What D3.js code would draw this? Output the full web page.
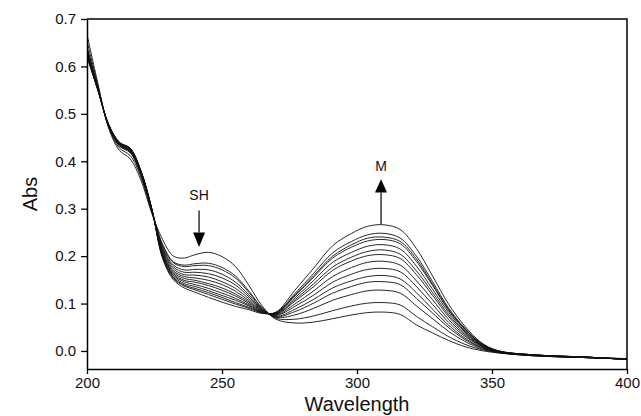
<!DOCTYPE html>
<html>
<head>
<meta charset="utf-8">
<script src="https://cdn.jsdelivr.net/npm/d3@7/dist/d3.min.js"></script>
<style>
  html, body { margin: 0; padding: 0; background: #fff; }
  svg { display: block; font-family: "Liberation Sans", Arial, sans-serif; }
</style>
</head>
<body>
<svg id="chart" width="641" height="416"></svg>
<script>
// ---- data ----
const wavelengths = [200,204,208,212,216,220,224,228,232,236,240,245,250,255,260,265,270,277,284,291,298,304,310,316,322,328,334,340,346,352,365,385,400];

const abs01 = [.667,.565,.470,.423,.405,.360,.290,.235,.200,.196,.203,.208,.199,.178,.138,.094,.067,.059,.061,.068,.076,.081,.082,.077,.055,.038,.022,.009,.001,-.004,-.010,-.014,-.016];
const abs02 = [.653,.561,.472,.428,.412,.366,.293,.225,.188,.181,.184,.185,.176,.158,.126,.090,.069,.067,.074,.085,.095,.101,.102,.097,.073,.051,.030,.014,.003,-.003,-.010,-.014,-.016];
const abs03 = [.641,.557,.474,.432,.418,.371,.296,.223,.186,.178,.180,.180,.171,.154,.123,.090,.071,.076,.090,.107,.119,.127,.128,.122,.095,.068,.041,.020,.005,-.003,-.010,-.014,-.017];
const abs04 = [.639,.556,.475,.433,.419,.372,.296,.219,.181,.171,.172,.171,.162,.145,.118,.088,.072,.083,.101,.122,.136,.145,.146,.140,.111,.080,.049,.024,.007,-.002,-.009,-.014,-.017];
const abs05 = [.636,.555,.475,.434,.420,.373,.297,.216,.177,.166,.166,.163,.154,.139,.114,.087,.073,.088,.109,.133,.148,.157,.159,.152,.123,.088,.054,.027,.008,-.002,-.009,-.014,-.017];
const abs06 = [.634,.555,.476,.435,.421,.374,.297,.213,.173,.161,.160,.156,.146,.132,.110,.086,.075,.094,.118,.145,.162,.172,.174,.167,.136,.098,.060,.031,.010,-.002,-.009,-.014,-.017];
const abs07 = [.632,.554,.476,.436,.422,.375,.298,.210,.169,.157,.154,.149,.140,.126,.106,.085,.076,.099,.127,.157,.176,.187,.189,.181,.148,.108,.066,.034,.011,-.001,-.009,-.013,-.017];
const abs08 = [.629,.553,.476,.437,.423,.376,.298,.207,.166,.153,.149,.142,.133,.120,.103,.084,.077,.105,.136,.170,.190,.201,.203,.195,.161,.117,.072,.037,.012,-.001,-.009,-.013,-.017];
const abs09 = [.628,.552,.477,.437,.424,.377,.298,.205,.163,.149,.145,.138,.128,.116,.100,.083,.078,.108,.142,.177,.198,.210,.213,.204,.169,.123,.076,.040,.013,.000,-.009,-.013,-.017];
const abs10 = [.626,.552,.477,.438,.425,.378,.299,.203,.160,.146,.140,.132,.122,.111,.097,.082,.079,.112,.149,.187,.208,.221,.224,.215,.179,.130,.081,.042,.014,.000,-.008,-.013,-.018];
const abs11 = [.624,.551,.477,.439,.426,.378,.299,.201,.158,.142,.136,.127,.117,.107,.095,.081,.080,.116,.156,.196,.219,.232,.235,.226,.189,.138,.085,.045,.015,.000,-.008,-.013,-.018];
const abs12 = [.623,.551,.478,.439,.427,.379,.299,.199,.155,.139,.132,.123,.113,.102,.092,.081,.080,.118,.159,.200,.224,.238,.240,.231,.194,.141,.087,.046,.016,.000,-.008,-.013,-.018];
const abs13 = [.621,.550,.478,.440,.427,.379,.300,.197,.153,.137,.129,.119,.109,.099,.090,.080,.081,.121,.164,.207,.231,.245,.248,.238,.200,.146,.090,.048,.016,.001,-.008,-.013,-.018];
const abs14 = [.620,.550,.478,.440,.428,.380,.300,.195,.150,.133,.124,.113,.103,.094,.087,.079,.082,.128,.175,.222,.248,.263,.266,.256,.216,.158,.098,.052,.018,.001,-.008,-.013,-.018];

const spectra = [abs01,abs02,abs03,abs04,abs05,abs06,abs07,abs08,abs09,abs10,abs11,abs12,abs13,abs14];

const xTicks = [200, 250, 300, 350, 400];
const yTicks = [0.0, 0.1, 0.2, 0.3, 0.4, 0.5, 0.6, 0.7];
const xLabel = "Wavelength";
const yLabel = "Abs";
// annotations: [label, wavelength, text value, shaft start, head base, tip]
const shNote = ["SH", 241.5, 0.318, 0.296, 0.250, 0.219];
const mNote  = ["M", 308.9, 0.380, 0.268, 0.334, 0.362];

(function () {
  // ---- layout ----
  const W = 641, H = 416;
  const pL = 87, pR = 627, pT = 19, pB = 369;
  const svg = d3.select("#chart");

  const x = d3.scaleLinear().domain([200, 400]).range([pL, pR]);
  const y = d3.scaleLinear().domain([-0.038, 0.7]).range([pB, pT]);

  svg.append("clipPath").attr("id", "plotclip")
    .append("rect").attr("x", pL).attr("y", pT)
    .attr("width", pR - pL).attr("height", pB - pT);

  // spectra
  const line = d3.line()
    .x((d, i) => x(wavelengths[i]))
    .y(d => y(d))
    .curve(d3.curveCatmullRom.alpha(0.5));

  svg.append("g").attr("clip-path", "url(#plotclip)")
    .selectAll("path").data(spectra).join("path")
    .attr("d", d => line(d))
    .attr("fill", "none")
    .attr("stroke", "#111")
    .attr("stroke-width", 0.9);

  // frame (top & right)
  svg.append("path")
    .attr("d", `M${pL},${pT}H${pR}V${pB}`)
    .attr("fill", "none").attr("stroke", "#000").attr("stroke-width", 1.5);

  // axes
  const yAxis = svg.append("g").attr("transform", `translate(${pL},0)`)
    .call(d3.axisLeft(y).tickValues(yTicks).tickFormat(d3.format(".1f"))
          .tickSize(6).tickSizeOuter(0).tickPadding(5));
  const xAxis = svg.append("g").attr("transform", `translate(0,${pB})`)
    .call(d3.axisBottom(x).tickValues(xTicks).tickFormat(d3.format("d"))
          .tickSize(5).tickSizeOuter(0).tickPadding(3));

  [yAxis, xAxis].forEach(g => {
    g.select(".domain").attr("stroke", "#000").attr("stroke-width", 1.5);
    g.selectAll(".tick line").attr("stroke", "#000").attr("stroke-width", 1.3);
    g.selectAll(".tick text").attr("fill", "#111")
      .style("font-size", "15px").style("font-family", '"Liberation Sans", Arial, sans-serif');
  });

  // axis titles
  svg.append("text")
    .attr("x", (pL + pR) / 2).attr("y", 411)
    .attr("text-anchor", "middle").attr("fill", "#111")
    .style("font-size", "20px").text(xLabel);

  svg.append("text")
    .attr("transform", `translate(37,${(pT + pB) / 2}) rotate(-90)`)
    .attr("text-anchor", "middle").attr("fill", "#111")
    .style("font-size", "20px").text(yLabel);

  // annotations with arrows
  function note(n) {
    const [label, wl, ty, s0, hb, tip] = n;
    const cx = x(wl);
    svg.append("text").attr("x", cx).attr("y", y(ty))
      .attr("text-anchor", "middle").attr("fill", "#111")
      .style("font-size", "14px").text(label);
    svg.append("line")
      .attr("x1", cx).attr("x2", cx)
      .attr("y1", y(s0)).attr("y2", y(hb))
      .attr("stroke", "#000").attr("stroke-width", 1.2);
    const hw = 6;
    svg.append("path")
      .attr("d", `M${cx - hw},${y(hb)}L${cx + hw},${y(hb)}L${cx},${y(tip)}Z`)
      .attr("fill", "#000");
  }
  note(shNote);
  note(mNote);
})();
</script>
</body>
</html>
